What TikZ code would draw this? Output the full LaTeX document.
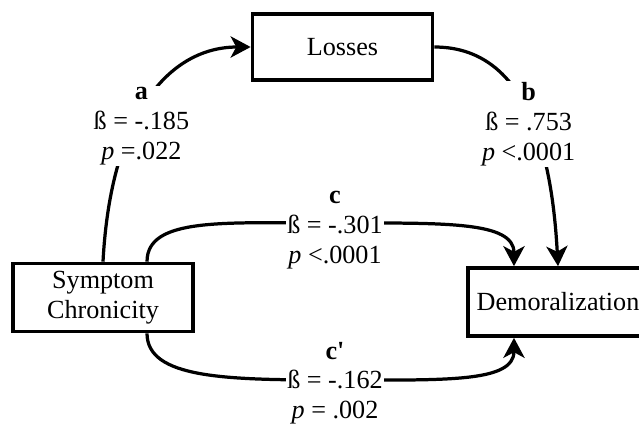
\documentclass[tikz,border=0pt]{standalone}
\usepackage{fontspec}
\setmainfont{Liberation Serif}[Ligatures=TeXOff]
\usetikzlibrary{arrows.meta}

\begin{document}
\begin{tikzpicture}[x=0.025cm,y=-0.025cm,
  font=\fontsize{18.6}{21.3}\selectfont,
  box/.style={draw,line width=2.6pt,minimum width=4.5cm,minimum height=1.7cm,align=center,inner sep=2pt},
  link/.style={line width=2.3pt,-{Stealth[length=0.5cm,width=0.53cm,inset=0.14cm]}},
  coef/.style={fill=white,align=center,inner sep=1pt}]
  \useasboundingbox (0,0) rectangle (639,423);
  % boxes
  \node[box,minimum height=1.65cm] (losses) at (342.5,47) {Losses};
  \node[box] (sc) at (103,297.5) {Symptom\\Chronicity};
  \node[box] (dm) at (558,302) {Demoralization};
  \coordinate (cmid) at (335,223);
  \coordinate (cpmid) at (335,380);
  % indirect path
  \draw[link] (sc.north) .. controls +(8,-150) and +(-80,0) .. (losses.west)
    node[coef,pos=0.4,xshift=0.15cm,yshift=-0.12cm] {\textbf{a}\\ß = -.185\\\textit{p} =.022};
  \draw[link] (losses.east) .. controls +(75,0) and +(-8,-150) .. (dm.north)
    node[coef,pos=0.6,xshift=-0.1cm] {\textbf{b}\\ß = .753\\\textit{p} <.0001};
  % direct paths
  \draw[link] ([xshift=1.1cm]sc.north) .. controls +(0,-45) and +(-110,0) .. (cmid)
    node[coef,yshift=-0.17cm] {\textbf{c}\\ß = -.301\\\textit{p} <.0001}
    .. controls +(110,0) and +(0,-45) .. ([xshift=-1.1cm]dm.north);
  \draw[link] ([xshift=1.1cm]sc.south) .. controls +(0,45) and +(-110,0) .. (cpmid)
    node[coef,yshift=-0.08cm] {\textbf{c'}\\ß = -.162\\\textit{p} = .002}
    .. controls +(110,0) and +(0,45) .. ([xshift=-1.1cm]dm.south);
\end{tikzpicture}
\end{document}
